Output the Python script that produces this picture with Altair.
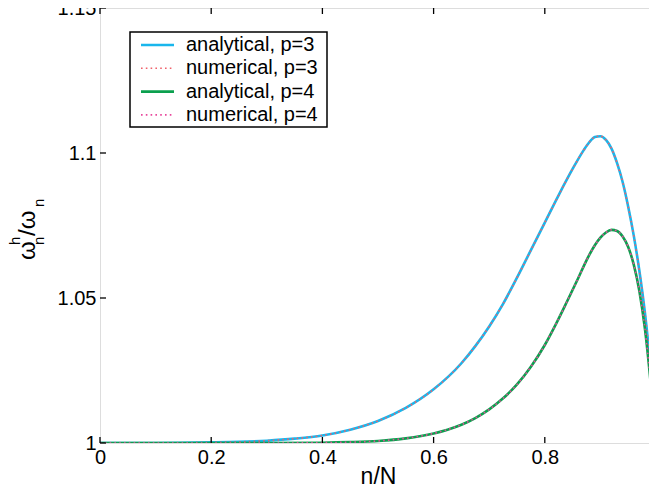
import altair as alt
import pandas as pd

# ---- data ----
x_p3 = [0.0, 0.1, 0.2, 0.25, 0.3, 0.35, 0.4, 0.45, 0.5, 0.55,
        0.6, 0.65, 0.675, 0.7, 0.725, 0.75, 0.775, 0.8, 0.825, 0.85,
        0.87, 0.88, 0.89, 0.9, 0.91, 0.92, 0.93, 0.94, 0.95, 0.96,
        0.97, 0.98, 0.99, 0.995, 1.0]
y_p3 = [1.0, 1.0, 1.0002, 1.0004, 1.0008, 1.0015, 1.0026, 1.0046, 1.0076, 1.0121,
        1.0185, 1.0275, 1.0334, 1.0402, 1.0480, 1.0570, 1.0665, 1.0760, 1.0855, 1.0945,
        1.1010, 1.1037, 1.1055, 1.1058, 1.1045, 1.1015, 1.0965, 1.0900, 1.0815, 1.0715,
        1.0595, 1.0450, 1.0265, 1.0150, 1.0020]
x_p4 = [0.0, 0.2, 0.3, 0.4, 0.45, 0.5, 0.55, 0.6, 0.625, 0.65,
        0.675, 0.7, 0.725, 0.75, 0.775, 0.8, 0.82, 0.84, 0.86, 0.875,
        0.89, 0.9, 0.91, 0.92, 0.93, 0.94, 0.95, 0.96, 0.97, 0.98,
        0.99, 0.995, 1.0]
y_p4 = [1.0, 1.0, 1.0, 1.0001, 1.0003, 1.0007, 1.0016, 1.0033, 1.0046, 1.0063,
        1.0086, 1.0116, 1.0154, 1.0202, 1.0263, 1.0338, 1.0410, 1.0488, 1.0568, 1.0630,
        1.0682, 1.0708, 1.0726, 1.0735, 1.0731, 1.0712, 1.0676, 1.0615, 1.0525, 1.0395,
        1.0215, 1.0110, 1.0020]
# numerical solutions coincide with the analytical ones, with an outlier at n/N = 1
num_p3_x, num_p3_y = x_p3, y_p3
num_p4_x, num_p4_y = x_p4, y_p4
num_outlier = 1.25

x_ticks = [0, 0.2, 0.4, 0.6, 0.8, 1.0]
y_ticks = [1.0, 1.05, 1.1, 1.15]
legend_labels = ["analytical, p=3", "numerical, p=3", "analytical, p=4", "numerical, p=4"]

# ---- styling ----
W, H = 556, 435
FONT = "Liberation Sans"
C_BLUE, C_RED, C_GREEN, C_MAG = "#19B6EC", "#F0606A", "#0BA04E", "#E8479C"
DOT = [1.6, 3.2]
xs = alt.Scale(domain=[0, 1], nice=False, zero=False)
ys = alt.Scale(domain=[1.0, 1.15], nice=False, zero=False)

def line_df(xv, yv):
    return pd.DataFrame({"x": xv, "y": yv})

def curve(xv, yv, color, dash=None, width=2.6, interp="monotone"):
    kw = dict(color=color, strokeWidth=width, clip=True, interpolate=interp)
    if dash:
        kw["strokeDash"] = dash
    return alt.Chart(line_df(xv, yv)).mark_line(**kw).encode(
        x=alt.X("x:Q", scale=xs), y=alt.Y("y:Q", scale=ys))

base = alt.Chart(line_df(x_p3, y_p3)).mark_line(
    color=C_BLUE, strokeWidth=2.6, clip=True, interpolate="monotone").encode(
    x=alt.X("x:Q", scale=xs,
            axis=alt.Axis(values=x_ticks, title="n/N", grid=False, domain=False,
                          ticks=False, tickSize=0, labelPadding=4, labelFontSize=20,
                          labelFont=FONT, labelColor="black", titleFont=FONT,
                          titleFontSize=23, titleFontWeight="normal", titleColor="black",
                          titlePadding=-2, labelExpr="format(datum.value, '~g')",
                          labelFlush=False, labelOverlap=False)),
    y=alt.Y("y:Q", scale=ys,
            axis=alt.Axis(values=y_ticks, title=None, grid=False, domain=False,
                          ticks=False, tickSize=0, labelPadding=4, labelFontSize=20,
                          labelFont=FONT, labelColor="black",
                          labelExpr="format(datum.value, '~g')",
                          labelFlush=False, labelOverlap=False)),
)

layers = [
    base,
    curve(num_p3_x, num_p3_y, C_RED, DOT, 1.6),
    curve([num_p3_x[-1], num_p3_x[-1]], [num_p3_y[-1], num_outlier], C_RED, DOT, 1.6, "linear"),
    curve(x_p4, y_p4, C_GREEN),
    curve(num_p4_x, num_p4_y, C_MAG, DOT, 1.6),
    curve([num_p4_x[-1], num_p4_x[-1]], [num_p4_y[-1], num_outlier], C_MAG, DOT, 1.6, "linear"),
]

# inward ticks on all four sides (MATLAB style)
TL = 6
xt = pd.DataFrame({"x": x_ticks})
yt = pd.DataFrame({"y": y_ticks})
for y0, y1 in [(H, H - TL), (0, TL)]:
    layers.append(alt.Chart(xt).mark_rule(color="black", strokeWidth=1.3).encode(
        x=alt.X("x:Q", scale=xs), y=alt.value(y0), y2=alt.value(y1)))
for x0, x1 in [(0, TL), (W, W - TL)]:
    layers.append(alt.Chart(yt).mark_rule(color="black", strokeWidth=1.3).encode(
        y=alt.Y("y:Q", scale=ys), x=alt.value(x0), x2=alt.value(x1)))

one = pd.DataFrame({"k": [0]})

# y-axis title: omega_n^h / omega_n (rotated)
def ytxt(t, x, y, size):
    return alt.Chart(one).mark_text(text=t, angle=270, align="left", baseline="alphabetic",
                                    font=FONT, fontSize=size, color="black").encode(
        x=alt.value(x), y=alt.value(y))

layers += [
    ytxt("ω", -65, 252, 24),
    ytxt("h", -80, 237, 15),
    ytxt("n", -56, 237, 15),
    ytxt("/ω", -65, 228, 24),
    ytxt("n", -56, 199, 15),
]

# legend box
LX0, LY0, LX1, LY1 = 30, 24, 227, 119
layers.append(alt.Chart(one).mark_rect(fill="white", stroke="black", strokeWidth=1.5).encode(
    x=alt.value(LX0), x2=alt.value(LX1), y=alt.value(LY0), y2=alt.value(LY1)))
leg_colors = [C_BLUE, C_RED, C_GREEN, C_MAG]
leg_dash = [None, DOT, None, DOT]
for i, lab in enumerate(legend_labels):
    yy = 37 + i * 23.3
    kw = dict(color=leg_colors[i], strokeWidth=2.6 if leg_dash[i] is None else 1.6)
    if leg_dash[i]:
        kw["strokeDash"] = leg_dash[i]
    layers.append(alt.Chart(one).mark_rule(**kw).encode(
        x=alt.value(41), x2=alt.value(74), y=alt.value(yy)))
    layers.append(alt.Chart(one).mark_text(text=lab, align="left", baseline="middle",
                                           font=FONT, fontSize=20, color="black").encode(
        x=alt.value(86), y=alt.value(yy)))

chart = alt.layer(*layers).properties(
    width=W, height=H,
    autosize=alt.AutoSizeParams(type="none"),
    padding={"left": 92, "top": 0, "right": -7, "bottom": 49},
).configure_view(stroke="black", strokeWidth=2).configure(background="white")

chart.save("out.html", embed_options={"renderer": "svg", "actions": False})
